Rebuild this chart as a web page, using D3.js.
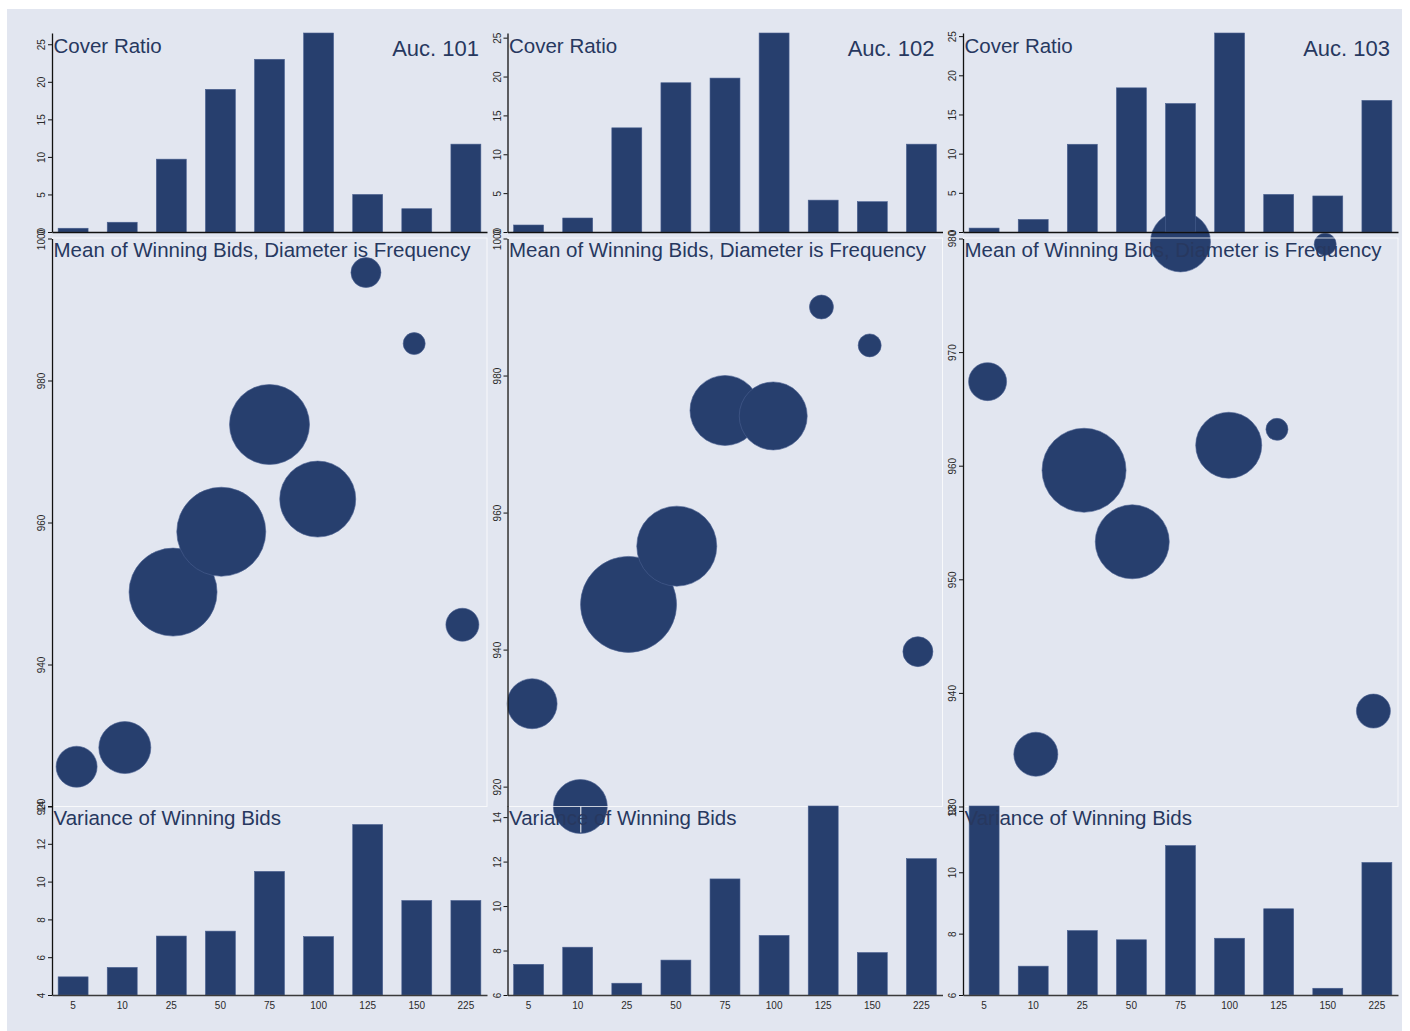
<!DOCTYPE html>
<html>
<head>
<meta charset="utf-8">
<script src="https://cdn.jsdelivr.net/npm/d3@7"></script>
<style>
  html, body { margin: 0; padding: 0; background: #ffffff; }
  svg { display: block; font-family: "Liberation Sans", Arial, sans-serif; }
</style>
</head>
<body>
<svg id="chart" width="1410" height="1031"></svg>
<script>
// ---- data -------------------------------------------------------------
const categories = ["5", "10", "25", "50", "75", "100", "125", "150", "225"];
const auctionLabels = ["Auc. 101", "Auc. 102", "Auc. 103"];

// Cover ratio per bid-size bucket
const coverRatio101 = [0.5, 1.3, 9.7, 19.0, 23.0, 26.5, 5.0, 3.1, 11.7];
const coverRatio102 = [0.9, 1.8, 13.4, 19.2, 19.8, 25.6, 4.1, 3.9, 11.3];
const coverRatio103 = [0.5, 1.6, 11.2, 18.4, 16.4, 25.4, 4.8, 4.6, 16.8];

// Mean of winning bids
const meanBid101 = [925.6, 928.3, 950.2, 958.7, 973.8, 963.3, 995.2, 985.2, 945.6];
const meanBid102 = [932.1, 917.1, 946.6, 955.1, 974.9, 974.1, 990.0, 984.4, 939.7];
const meanBid103 = [967.4, 934.6, 959.6, 953.3, 979.7, 961.8, 963.2, 979.5, 938.4];

// Frequency of winning bids (drawn as bubble diameter)
const frequency101 = [41, 52, 88, 89, 80, 76, 30, 22, 33];
const frequency102 = [50, 54, 96, 80, 70, 68, 24, 23, 30];
const frequency103 = [38, 44, 84, 74, 60, 66, 22, 22, 34];

// Variance of winning bids
const variance101 = [4.96, 5.46, 7.12, 7.38, 10.54, 7.09, 13.02, 9.0, 9.0];
const variance102 = [7.38, 8.15, 6.53, 7.57, 11.22, 8.68, 14.5, 7.91, 12.13];
const variance103 = [12.16, 6.94, 8.1, 7.8, 10.87, 7.85, 8.81, 6.22, 10.32];

// Axis tick labels
const coverTicks = [0, 5, 10, 15, 20, 25];
const meanTicks101 = [920, 940, 960, 980, 1000];
const meanTicks102 = [920, 940, 960, 980, 1000];
const meanTicks103 = [930, 940, 950, 960, 970, 980];
const varianceTicks101 = [4, 6, 8, 10, 12, 14];
const varianceTicks102 = [6, 8, 10, 12, 14];
const varianceTicks103 = [6, 8, 10, 12];

const auctions = [
  { label: auctionLabels[0], cover: coverRatio101, mean: meanBid101, freq: frequency101,
    variance: variance101, meanTicks: meanTicks101, varTicks: varianceTicks101 },
  { label: auctionLabels[1], cover: coverRatio102, mean: meanBid102, freq: frequency102,
    variance: variance102, meanTicks: meanTicks102, varTicks: varianceTicks102 },
  { label: auctionLabels[2], cover: coverRatio103, mean: meanBid103, freq: frequency103,
    variance: variance103, meanTicks: meanTicks103, varTicks: varianceTicks103 }
];

// ---- layout & style ---------------------------------------------------
const INK = "#273f6e";
const INK_EDGE = "#4a6090";
const TITLE = "#27385f";
const LABEL = "#2a2a2a";
const BG = "#e2e6f0";

const plotW = 435;
const panelStep = 455.5;
const panelLeft = 52;
const rows = {
  cover: [232, 33],
  mean: [806.5, 238.5],
  variance: [995, 806]
};

const svg = d3.select("#chart");
svg.append("rect")
  .attr("x", 7).attr("y", 9)
  .attr("width", 1395).attr("height", 1022)
  .attr("fill", BG);

// Diameter scale for bubbles
const diameter = d3.scaleLinear().domain([0, 100]).range([0, 100]);

// Axis range covers both the data and the labelled ticks
const span = (values, ticks) => d3.extent(values.concat(ticks));

function styleLeftAxis(sel, scale, ticks) {
  sel.attr("font-family", "'Liberation Sans', Arial, sans-serif").attr("font-size", 11.5)
    .call(d3.axisLeft(scale).tickValues(ticks).tickSize(4).tickSizeOuter(0).tickFormat(d3.format("d")));
  sel.select(".domain").attr("stroke", "#111").attr("stroke-width", 1.3);
  sel.selectAll(".tick line").attr("stroke", "#111").attr("stroke-width", 1);
  sel.selectAll(".tick text")
    .attr("transform", "rotate(-90)")
    .attr("x", 0).attr("y", -7).attr("dy", 0)
    .attr("text-anchor", "middle")
    .attr("fill", LABEL);
}

function drawBars(g, xBand, yScale, values) {
  const base = yScale.domain()[0];
  g.append("g").selectAll("rect")
    .data(values)
    .join("rect")
    .attr("x", (d, j) => xBand(categories[j]))
    .attr("y", d => yScale(d))
    .attr("width", xBand.bandwidth())
    .attr("height", d => yScale(base) - yScale(d))
    .attr("fill", INK)
    .attr("stroke", INK_EDGE)
    .attr("stroke-width", 0.6);
}

function addTitle(g, text, y) {
  g.append("text")
    .attr("x", 1.5).attr("y", y)
    .attr("font-size", 20.5)
    .attr("fill", TITLE)
    .text(text);
}

auctions.forEach((a, i) => {
  const g = svg.append("g")
    .attr("transform", `translate(${panelLeft + i * panelStep},0)`);

  const xBand = d3.scaleBand().domain(categories).range([0, plotW])
    .paddingInner(0.39).paddingOuter(0.125);
  const xPoint = d3.scalePoint().domain(categories).range([0, plotW]).padding(0.51);

  const yCover = d3.scaleLinear().domain(span(a.cover, coverTicks)).range(rows.cover);
  const yMean = d3.scaleLinear().domain(span(a.mean, a.meanTicks)).range(rows.mean);
  const yVar = d3.scaleLinear().domain(span(a.variance, a.varTicks)).range(rows.variance);

  // ---- middle: mean of winning bids, bubble diameter = frequency ----
  const bubbles = a.mean.map((m, j) => ({ cat: categories[j], mean: m, freq: a.freq[j] }));

  g.append("g").selectAll("circle")
    .data(bubbles)
    .join("circle")
    .attr("cx", d => xPoint(d.cat))
    .attr("cy", d => yMean(d.mean))
    .attr("r", d => diameter(d.freq) / 2)
    .attr("fill", INK)
    .attr("stroke", INK_EDGE)
    .attr("stroke-width", 0.6);

  // plot-region outline of the bubble plot
  g.append("rect")
    .attr("x", 0).attr("y", rows.mean[1] - 0.5)
    .attr("width", plotW).attr("height", rows.mean[0] - rows.mean[1] + 0.5)
    .attr("fill", "none")
    .attr("stroke", "#ffffff")
    .attr("stroke-opacity", 0.75)
    .attr("stroke-width", 1);

  // white x ticks of the bubble plot, visible only over the markers
  const clipId = `bubble-clip-${i}`;
  g.append("clipPath").attr("id", clipId)
    .selectAll("circle")
    .data(bubbles)
    .join("circle")
    .attr("cx", d => xPoint(d.cat))
    .attr("cy", d => yMean(d.mean))
    .attr("r", d => diameter(d.freq) / 2);
  g.append("g").attr("clip-path", `url(#${clipId})`)
    .append("g")
    .attr("transform", `translate(0,${rows.mean[0]})`)
    .call(d3.axisBottom(xPoint).tickSize(26).tickSizeOuter(0).tickFormat(() => ""))
    .call(s => {
      s.select(".domain").remove();
      s.selectAll(".tick line").attr("stroke", "#ffffff").attr("stroke-width", 1);
    });

  // ---- top: cover ratio ----
  drawBars(g, xBand, yCover, a.cover);
  g.append("g")
    .attr("transform", `translate(0,${rows.cover[0]})`)
    .call(d3.axisBottom(xBand).tickSize(0).tickSizeOuter(0).tickFormat(() => ""))
    .call(s => s.select(".domain").attr("stroke", "#111").attr("stroke-width", 1.3));

  // ---- bottom: variance of winning bids ----
  drawBars(g, xBand, yVar, a.variance);
  g.append("g")
    .attr("transform", `translate(0,${rows.variance[0]})`)
    .attr("font-family", "'Liberation Sans', Arial, sans-serif")
    .attr("font-size", 11)
    .call(d3.axisBottom(xBand).tickSize(0).tickSizeOuter(0).tickPadding(6.5))
    .call(s => {
      s.select(".domain").attr("stroke", "#3a3a3a").attr("stroke-width", 1.6);
      s.selectAll(".tick text").attr("fill", LABEL);
    });

  // ---- y axes (one continuous left spine) ----
  styleLeftAxis(g.append("g"), yCover, coverTicks);
  styleLeftAxis(g.append("g"), yMean, a.meanTicks);
  styleLeftAxis(g.append("g"), yVar, a.varTicks);

  // ---- titles ----
  addTitle(g, "Cover Ratio", 52.5);
  addTitle(g, "Mean of Winning Bids, Diameter is Frequency", 257);
  addTitle(g, "Variance of Winning Bids", 825);

  g.append("text")
    .attr("x", plotW - 8).attr("y", 56)
    .attr("text-anchor", "end")
    .attr("font-size", 22)
    .attr("fill", TITLE)
    .text(a.label);
});
</script>
</body>
</html>
